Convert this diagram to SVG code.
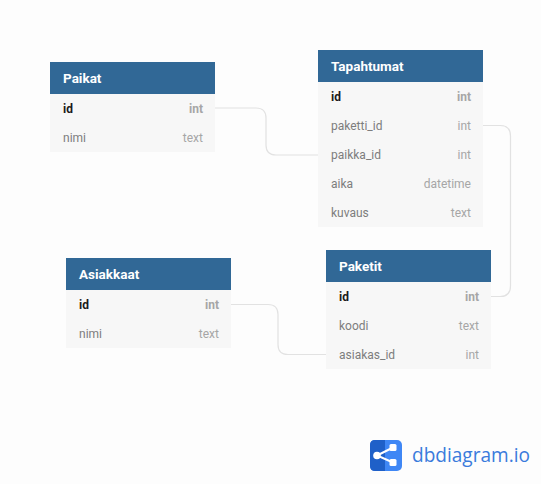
<svg xmlns="http://www.w3.org/2000/svg" width="541" height="484" viewBox="0 0 541 484">
<style>
text{font-family:Roboto,"Liberation Sans",sans-serif;font-size:12px}
.body{fill:#f7f7f7}
.head{fill:#316896}
.title{fill:#fff;font-weight:700;font-size:13.500px}
.f{fill:#7d7d7d}
.k{fill:#1a1a1a;font-weight:700}
.t{fill:#a6a6a6;text-anchor:end}
.tk{fill:#a6a6a6;font-weight:700;text-anchor:end}
.c{fill:none;stroke:#e2e2e2;stroke-width:1.200}
.logo{font-family:"Open Sans",sans-serif;font-size:20px;fill:#3a7bdc}
</style>
<rect width="541" height="484" fill="#fdfdfd"/>
<g id="connectors">
<path class="c" d="M215 108H256Q266 108 266 118V145Q266 155 276 155H318"/>
<path class="c" d="M483 125.500H500Q510.500 125.500 510.500 136V286Q510.500 296.500 500 296.500H491"/>
<path class="c" d="M231 304.500H268Q278 304.500 278 314.500V344.500Q278 354.500 288 354.500H326"/>
</g>
<g id="Paikat">
<rect class="body" x="50" y="94" width="165" height="58"/>
<rect class="head" x="50" y="62" width="165" height="32"/>
<text class="title" x="63" y="83">Paikat</text>
<text class="k" x="63" y="113">id</text><text class="tk" x="203" y="113">int</text>
<text class="f" x="63" y="142">nimi</text><text class="t" x="203" y="142">text</text>
</g>
<g id="Tapahtumat">
<rect class="body" x="318" y="82" width="165" height="145"/>
<rect class="head" x="318" y="50" width="165" height="32"/>
<text class="title" x="331" y="71">Tapahtumat</text>
<text class="k" x="331" y="101">id</text><text class="tk" x="471" y="101">int</text>
<text class="f" x="331" y="130">paketti_id</text><text class="t" x="471" y="130">int</text>
<text class="f" x="331" y="159">paikka_id</text><text class="t" x="471" y="159">int</text>
<text class="f" x="331" y="188">aika</text><text class="t" x="471" y="188">datetime</text>
<text class="f" x="331" y="217">kuvaus</text><text class="t" x="471" y="217">text</text>
</g>
<g id="Asiakkaat">
<rect class="body" x="66" y="290" width="165" height="58"/>
<rect class="head" x="66" y="258" width="165" height="32"/>
<text class="title" x="79" y="279">Asiakkaat</text>
<text class="k" x="79" y="309">id</text><text class="tk" x="219" y="309">int</text>
<text class="f" x="79" y="338">nimi</text><text class="t" x="219" y="338">text</text>
</g>
<g id="Paketit">
<rect class="body" x="326" y="282" width="165" height="87"/>
<rect class="head" x="326" y="250" width="165" height="32"/>
<text class="title" x="339" y="271">Paketit</text>
<text class="k" x="339" y="301">id</text><text class="tk" x="479" y="301">int</text>
<text class="f" x="339" y="330">koodi</text><text class="t" x="479" y="330">text</text>
<text class="f" x="339" y="359">asiakas_id</text><text class="t" x="479" y="359">int</text>
</g>
<g id="logo">
<rect x="370" y="440" width="32" height="31" rx="5" fill="#3f87f5"/>
<path d="M385 440H375Q370 440 370 445V466Q370 471 375 471H385Z" fill="#1f60c8"/>
<path d="M393 447.500L377 455.500L393 462.500" fill="none" stroke="#fff" stroke-width="2"/>
<circle cx="377" cy="455.500" r="3.800" fill="#fff"/><rect x="389.500" y="444" width="7" height="7" rx="1.500" fill="#fff"/><rect x="389.500" y="459" width="7" height="7" rx="1.500" fill="#fff"/>
<text class="logo" x="412" y="462" textLength="118" lengthAdjust="spacingAndGlyphs">dbdiagram.io</text>
</g>
</svg>
